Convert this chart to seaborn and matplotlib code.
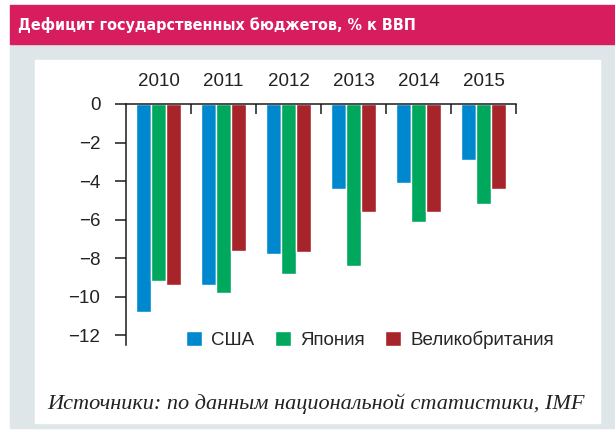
import pandas as pd
import matplotlib.pyplot as plt
import seaborn as sns
from matplotlib.patches import Rectangle

# Data
years = ['2010', '2011', '2012', '2013', '2014', '2015']
usa = [-10.8, -9.4, -7.8, -4.4, -4.1, -2.9]
japan = [-9.2, -9.8, -8.8, -8.4, -6.1, -5.2]
uk = [-9.4, -7.6, -7.7, -5.6, -5.6, -4.4]
countries = ['США', 'Япония', 'Великобритания']
colors = ['#0088cf', '#00a85e', '#a8242b']
ytick_vals = [0, -2, -4, -6, -8, -10, -12]

# Long format for seaborn
rows = []
for name, vals in zip(countries, [usa, japan, uk]):
    for y, v in zip(years, vals):
        rows.append({'year': y, 'country': name, 'value': v})
df = pd.DataFrame(rows)

sns.set_style('white')
plt.rcParams['font.family'] = ['Liberation Sans', 'DejaVu Sans']

W, H = 615, 438
fig = plt.figure(figsize=(W / 100, H / 100), dpi=100)

# Frame: red header, grey backdrop, white panel (drawn behind the axes)
def px_rect(x0, y0, x1, y1, color):
    fig.patches.append(Rectangle((x0 / W, 1 - y1 / H), (x1 - x0) / W, (y1 - y0) / H,
                                 transform=fig.transFigure, color=color, zorder=-5))

px_rect(10, 44, 615, 428, '#dfe6e9')
px_rect(10, 5, 615, 44, '#d81d5f')
px_rect(35, 60, 600, 423, 'white')

fig.text(18 / W, 1 - 25 / H, 'Дефицит государственных бюджетов, % к ВВП',
         color='white', fontsize=11.5, fontweight='bold', va='center', ha='left',
         family='DejaVu Sans', fontstretch='condensed')
fig.text(585 / W, 1 - 404 / H, 'Источники: по данным национальной статистики, IMF',
         fontsize=16, style='italic', va='center', ha='right', color='#222222',
         family=['Liberation Serif', 'DejaVu Serif'])

ax = fig.add_axes([126 / W, 1 - 345 / H, 390 / W, 241 / H])
ax.patch.set_alpha(0)
sns.barplot(data=df, x='year', y='value', hue='country', palette=colors,
            width=0.68, gap=0, saturation=1, ax=ax, legend=True)

ax.set_xlim(-0.5, 5.5)
ax.set_ylim(-12.5, 0)
ax.set_xlabel('')
ax.set_ylabel('')

for side in ['right', 'bottom']:
    ax.spines[side].set_visible(False)
for side in ['left', 'top']:
    ax.spines[side].set_color('#1a1a1a')
    ax.spines[side].set_linewidth(1.1)

ax.set_yticks(ytick_vals)
ax.set_yticklabels(['0' if v == 0 else '\u2212' + str(-v) for v in ytick_vals])
ax.tick_params(axis='y', left=True, direction='out', length=8, width=1.1,
               color='#1a1a1a', labelsize=13.5, pad=10.5, labelcolor='#222222')

ax.xaxis.tick_top()
ax.set_xticks(range(len(years)))
ax.set_xticklabels(years)
ax.tick_params(axis='x', which='major', top=False, length=0, labelsize=13.5,
               pad=10, labelcolor='#222222')
ax.set_xticks([i + 0.5 for i in range(len(years))], minor=True)
ax.tick_params(axis='x', which='minor', top=True, bottom=False, direction='in',
               length=7.5, width=1.1, color='#1a1a1a')

ax.legend(loc='center', bbox_to_anchor=(370 / W, 1 - 340 / H),
          bbox_transform=fig.transFigure, ncol=3, frameon=False, fontsize=13.5,
          handlelength=0.85, handleheight=0.85, handletextpad=0.5, columnspacing=1.1)

fig.savefig('out.png', dpi=100)
